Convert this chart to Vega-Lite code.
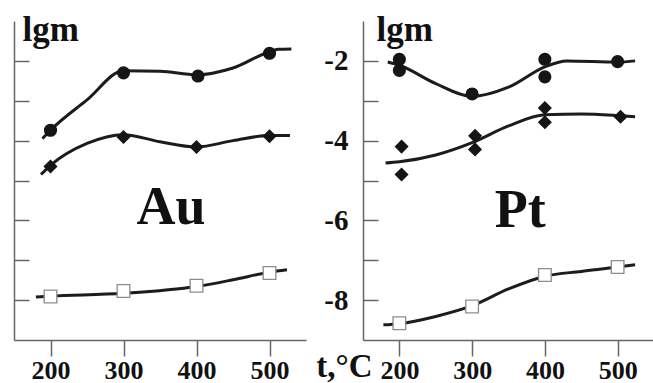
{
  "$schema": "https://vega.github.io/schema/vega-lite/v6.json",
  "padding": {"left": 13, "top": 12, "right": 0, "bottom": 0},
  "background": "white",
  "bounds": "flush",
  "spacing": 57,
  "config": {
    "view": {"stroke": null},
    "axis": {"grid": false, "domainColor": "#666", "domainWidth": 1.5, "tickColor": "#666", "tickWidth": 1.5,
      "labelFont": "Liberation Serif", "labelFontWeight": "bold", "labelColor": "#111",
      "titleFont": "Liberation Serif", "titleFontWeight": "bold", "titleColor": "#111"}
  },
  "datasets": {
    "curves": [
      {"panel": "Au", "series": "c", "t": 189, "lgm": -3.95},
      {"panel": "Au", "series": "c", "t": 200, "lgm": -3.74},
      {"panel": "Au", "series": "c", "t": 250, "lgm": -2.98},
      {"panel": "Au", "series": "c", "t": 300, "lgm": -2.25},
      {"panel": "Au", "series": "c", "t": 350, "lgm": -2.26},
      {"panel": "Au", "series": "c", "t": 400, "lgm": -2.35},
      {"panel": "Au", "series": "c", "t": 450, "lgm": -2.18},
      {"panel": "Au", "series": "c", "t": 500, "lgm": -1.77},
      {"panel": "Au", "series": "c", "t": 512, "lgm": -1.71},
      {"panel": "Au", "series": "c", "t": 530, "lgm": -1.70},
      {"panel": "Au", "series": "d", "t": 187, "lgm": -4.85},
      {"panel": "Au", "series": "d", "t": 200, "lgm": -4.62},
      {"panel": "Au", "series": "d", "t": 250, "lgm": -4.07},
      {"panel": "Au", "series": "d", "t": 300, "lgm": -3.85},
      {"panel": "Au", "series": "d", "t": 350, "lgm": -4.03},
      {"panel": "Au", "series": "d", "t": 400, "lgm": -4.16},
      {"panel": "Au", "series": "d", "t": 450, "lgm": -4.0},
      {"panel": "Au", "series": "d", "t": 500, "lgm": -3.87},
      {"panel": "Au", "series": "d", "t": 528, "lgm": -3.87},
      {"panel": "Au", "series": "s", "t": 180, "lgm": -7.92},
      {"panel": "Au", "series": "s", "t": 200, "lgm": -7.9},
      {"panel": "Au", "series": "s", "t": 300, "lgm": -7.83},
      {"panel": "Au", "series": "s", "t": 400, "lgm": -7.66},
      {"panel": "Au", "series": "s", "t": 450, "lgm": -7.49},
      {"panel": "Au", "series": "s", "t": 500, "lgm": -7.3},
      {"panel": "Au", "series": "s", "t": 524, "lgm": -7.24},
      {"panel": "Pt", "series": "c", "t": 184, "lgm": -2.03},
      {"panel": "Pt", "series": "c", "t": 200, "lgm": -2.11},
      {"panel": "Pt", "series": "c", "t": 250, "lgm": -2.57},
      {"panel": "Pt", "series": "c", "t": 300, "lgm": -2.89},
      {"panel": "Pt", "series": "c", "t": 350, "lgm": -2.66},
      {"panel": "Pt", "series": "c", "t": 400, "lgm": -2.15},
      {"panel": "Pt", "series": "c", "t": 430, "lgm": -2.0},
      {"panel": "Pt", "series": "c", "t": 500, "lgm": -2.03},
      {"panel": "Pt", "series": "c", "t": 524, "lgm": -2.0},
      {"panel": "Pt", "series": "d", "t": 181, "lgm": -4.56},
      {"panel": "Pt", "series": "d", "t": 200, "lgm": -4.53},
      {"panel": "Pt", "series": "d", "t": 250, "lgm": -4.36},
      {"panel": "Pt", "series": "d", "t": 300, "lgm": -4.05},
      {"panel": "Pt", "series": "d", "t": 350, "lgm": -3.63},
      {"panel": "Pt", "series": "d", "t": 400, "lgm": -3.35},
      {"panel": "Pt", "series": "d", "t": 450, "lgm": -3.33},
      {"panel": "Pt", "series": "d", "t": 500, "lgm": -3.37},
      {"panel": "Pt", "series": "d", "t": 524, "lgm": -3.4},
      {"panel": "Pt", "series": "s", "t": 178, "lgm": -8.62},
      {"panel": "Pt", "series": "s", "t": 200, "lgm": -8.59},
      {"panel": "Pt", "series": "s", "t": 250, "lgm": -8.41},
      {"panel": "Pt", "series": "s", "t": 300, "lgm": -8.14},
      {"panel": "Pt", "series": "s", "t": 350, "lgm": -7.72},
      {"panel": "Pt", "series": "s", "t": 400, "lgm": -7.4},
      {"panel": "Pt", "series": "s", "t": 450, "lgm": -7.28},
      {"panel": "Pt", "series": "s", "t": 500, "lgm": -7.17},
      {"panel": "Pt", "series": "s", "t": 524, "lgm": -7.11}
    ],
    "points": [
      {"panel": "Au", "series": "c", "t": 200, "lgm": -3.74},
      {"panel": "Au", "series": "c", "t": 300, "lgm": -2.3},
      {"panel": "Au", "series": "c", "t": 402, "lgm": -2.38},
      {"panel": "Au", "series": "c", "t": 500, "lgm": -1.81},
      {"panel": "Au", "series": "d", "t": 200, "lgm": -4.65},
      {"panel": "Au", "series": "d", "t": 300, "lgm": -3.91},
      {"panel": "Au", "series": "d", "t": 400, "lgm": -4.16},
      {"panel": "Au", "series": "d", "t": 500, "lgm": -3.89},
      {"panel": "Au", "series": "s", "t": 200, "lgm": -7.91},
      {"panel": "Au", "series": "s", "t": 300, "lgm": -7.77},
      {"panel": "Au", "series": "s", "t": 400, "lgm": -7.64},
      {"panel": "Au", "series": "s", "t": 500, "lgm": -7.32},
      {"panel": "Pt", "series": "c", "t": 200, "lgm": -1.96},
      {"panel": "Pt", "series": "c", "t": 200, "lgm": -2.24},
      {"panel": "Pt", "series": "c", "t": 300, "lgm": -2.83},
      {"panel": "Pt", "series": "c", "t": 400, "lgm": -1.96},
      {"panel": "Pt", "series": "c", "t": 400, "lgm": -2.4},
      {"panel": "Pt", "series": "c", "t": 500, "lgm": -2.02},
      {"panel": "Pt", "series": "d", "t": 203, "lgm": -4.15},
      {"panel": "Pt", "series": "d", "t": 203, "lgm": -4.85},
      {"panel": "Pt", "series": "d", "t": 304, "lgm": -3.88},
      {"panel": "Pt", "series": "d", "t": 304, "lgm": -4.22},
      {"panel": "Pt", "series": "d", "t": 400, "lgm": -3.18},
      {"panel": "Pt", "series": "d", "t": 400, "lgm": -3.54},
      {"panel": "Pt", "series": "d", "t": 504, "lgm": -3.4},
      {"panel": "Pt", "series": "s", "t": 200, "lgm": -8.58},
      {"panel": "Pt", "series": "s", "t": 300, "lgm": -8.16},
      {"panel": "Pt", "series": "s", "t": 400, "lgm": -7.37},
      {"panel": "Pt", "series": "s", "t": 500, "lgm": -7.17}
    ],
    "labels": [
      {"panel": "Au", "t": 365, "lgm": -6.1, "name": "Au"},
      {"panel": "Pt", "t": 366, "lgm": -6.16, "name": "Pt"}
    ]
  },
  "hconcat": [
    {
      "width": 292, "height": 319,
      "layer": [
        {
          "data": {"name": "curves"},
          "transform": [{"filter": "datum.panel === 'Au'"}],
          "mark": {"type": "line", "interpolate": "monotone", "color": "#1c1c1c", "strokeWidth": 3},
          "encoding": {
            "x": {"field": "t", "type": "quantitative", "scale": {"domain": [150, 550], "nice": false, "zero": false},
              "axis": {"values": [200, 300, 400, 500], "title": null, "tickSize": 16, "labelPadding": 1, "labelFontSize": 26, "labelFontWeight": "bold"}},
            "y": {"field": "lgm", "type": "quantitative", "scale": {"domain": [-9, -1], "nice": false, "zero": false},
              "axis": {"values": [-8, -7, -6, -5, -4, -3, -2], "labels": false, "tickSize": -15,
                "title": "lgm", "titleAngle": 0, "titleFontSize": 35, "titleAlign": "left", "titleBaseline": "alphabetic", "titleX": 8, "titleY": 19}},
            "detail": {"field": "series"}
          }
        },
        {
          "data": {"name": "points"},
          "transform": [{"filter": "datum.panel === 'Au'"}],
          "mark": {"type": "point", "filled": true, "strokeWidth": 1.3, "opacity": 1},
          "encoding": {
            "x": {"field": "t", "type": "quantitative"},
            "y": {"field": "lgm", "type": "quantitative"},
            "shape": {"field": "series", "type": "nominal", "scale": {"domain": ["c", "d", "s"], "range": ["circle", "diamond", "square"]}, "legend": null},
            "fill": {"field": "series", "type": "nominal", "scale": {"domain": ["c", "d", "s"], "range": ["#151515", "#151515", "#ffffff"]}, "legend": null},
            "stroke": {"field": "series", "type": "nominal", "scale": {"domain": ["c", "d", "s"], "range": ["#151515", "#151515", "#8c8c8c"]}, "legend": null},
            "size": {"field": "series", "type": "nominal", "scale": {"domain": ["c", "d", "s"], "range": [140, 160, 150]}, "legend": null}
          }
        },
        {
          "data": {"name": "labels"},
          "transform": [{"filter": "datum.panel === 'Au'"}],
          "mark": {"type": "text", "font": "Liberation Serif", "fontWeight": "bold", "fontSize": 54, "color": "#111", "align": "center", "baseline": "alphabetic"},
          "encoding": {
            "x": {"field": "t", "type": "quantitative"},
            "y": {"field": "lgm", "type": "quantitative"},
            "text": {"field": "name"}
          }
        }
      ]
    },
    {
      "width": 291, "height": 319,
      "layer": [
        {
          "data": {"name": "curves"},
          "transform": [{"filter": "datum.panel === 'Pt'"}],
          "mark": {"type": "line", "interpolate": "monotone", "color": "#1c1c1c", "strokeWidth": 3},
          "encoding": {
            "x": {"field": "t", "type": "quantitative", "scale": {"domain": [150, 550], "nice": false, "zero": false},
              "axis": {"values": [200, 300, 400, 500], "tickSize": 16, "labelPadding": 1, "labelFontSize": 26, "labelFontWeight": "bold",
                "title": "t,°C", "titleFontSize": 33, "titleAlign": "right", "titleBaseline": "alphabetic", "titleAnchor": "start", "titleX": 9, "titleY": 36}},
            "y": {"field": "lgm", "type": "quantitative", "scale": {"domain": [-9, -1], "nice": false, "zero": false},
              "axis": {"values": [-8, -7, -6, -5, -4, -3, -2], "tickSize": -15, "labelPadding": 30, "labelFontSize": 29,
                "labelFont": "Liberation Serif", "labelFontWeight": "bold",
                "labelExpr": "datum.value % 2 == 0 ? '-' + abs(datum.value) : ''",
                "title": "lgm", "titleAngle": 0, "titleFontSize": 35, "titleAlign": "left", "titleBaseline": "alphabetic", "titleX": 13, "titleY": 19}},
            "detail": {"field": "series"}
          }
        },
        {
          "data": {"name": "points"},
          "transform": [{"filter": "datum.panel === 'Pt'"}],
          "mark": {"type": "point", "filled": true, "strokeWidth": 1.3, "opacity": 1},
          "encoding": {
            "x": {"field": "t", "type": "quantitative"},
            "y": {"field": "lgm", "type": "quantitative"},
            "shape": {"field": "series", "type": "nominal", "scale": {"domain": ["c", "d", "s"], "range": ["circle", "diamond", "square"]}, "legend": null},
            "fill": {"field": "series", "type": "nominal", "scale": {"domain": ["c", "d", "s"], "range": ["#151515", "#151515", "#ffffff"]}, "legend": null},
            "stroke": {"field": "series", "type": "nominal", "scale": {"domain": ["c", "d", "s"], "range": ["#151515", "#151515", "#8c8c8c"]}, "legend": null},
            "size": {"field": "series", "type": "nominal", "scale": {"domain": ["c", "d", "s"], "range": [140, 160, 150]}, "legend": null}
          }
        },
        {
          "data": {"name": "labels"},
          "transform": [{"filter": "datum.panel === 'Pt'"}],
          "mark": {"type": "text", "font": "Liberation Serif", "fontWeight": "bold", "fontSize": 54, "color": "#111", "align": "center", "baseline": "alphabetic"},
          "encoding": {
            "x": {"field": "t", "type": "quantitative"},
            "y": {"field": "lgm", "type": "quantitative"},
            "text": {"field": "name"}
          }
        }
      ]
    }
  ]
}
